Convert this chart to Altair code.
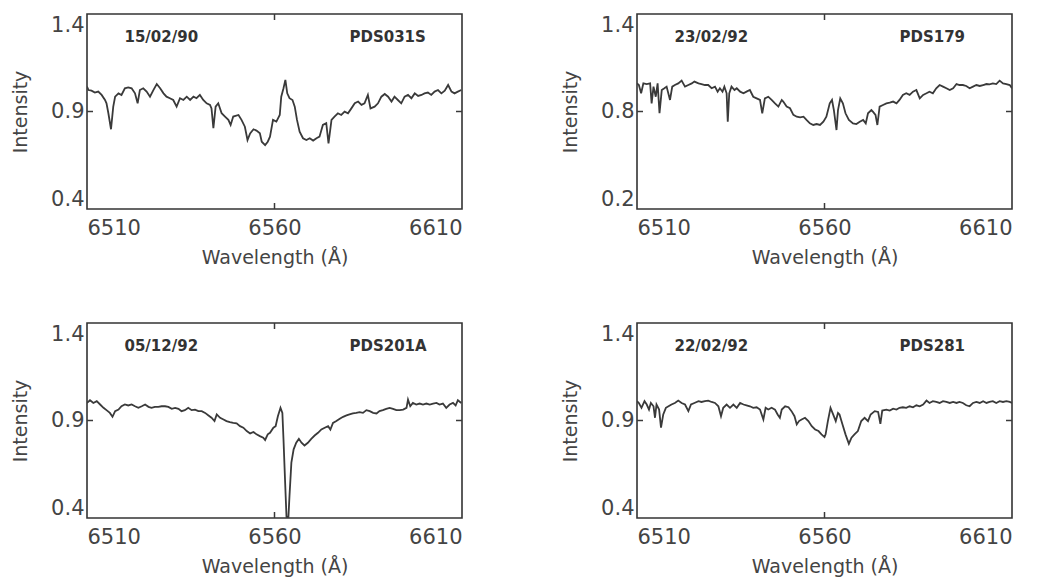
import altair as alt
import pandas as pd

# ---- data (wavelength Å, normalised intensity) ----
pds031s = [
    (6510.0, 1.028), (6510.4, 1.010), (6511.2, 1.007), (6512.1, 0.997), (6513.0, 1.002),
    (6513.9, 0.985), (6514.8, 0.959), (6515.2, 0.942), (6515.7, 0.891), (6516.4, 0.809),
    (6517.0, 0.925), (6517.5, 0.976), (6518.4, 0.993), (6519.2, 0.985), (6520.1, 1.019),
    (6521.0, 1.024), (6521.9, 1.019), (6522.8, 0.993), (6523.5, 0.942), (6524.1, 1.010),
    (6525.0, 1.019), (6525.9, 1.002), (6526.8, 0.976), (6527.7, 1.010), (6528.6, 1.041),
    (6529.5, 1.019), (6530.4, 0.993), (6531.2, 0.976), (6532.1, 0.968), (6533.0, 0.959),
    (6533.9, 0.925), (6534.8, 0.968), (6535.7, 0.959), (6536.6, 0.976), (6537.5, 0.959),
    (6538.4, 0.976), (6539.2, 0.968), (6540.1, 0.985), (6541.0, 0.959), (6541.9, 0.942),
    (6542.8, 0.934), (6543.2, 0.916), (6543.7, 0.814), (6544.3, 0.925), (6545.0, 0.942),
    (6545.9, 0.891), (6546.8, 0.874), (6547.7, 0.857), (6548.3, 0.831), (6549.0, 0.874),
    (6550.4, 0.882), (6551.2, 0.857), (6552.1, 0.822), (6552.8, 0.754), (6553.5, 0.788),
    (6554.4, 0.809), (6555.2, 0.802), (6556.1, 0.788), (6556.6, 0.745), (6557.5, 0.728),
    (6558.2, 0.745), (6558.8, 0.771), (6559.6, 0.857), (6560.5, 0.848), (6561.4, 0.882),
    (6561.8, 0.976), (6562.4, 1.019), (6562.9, 1.062), (6563.4, 0.993), (6564.0, 0.968),
    (6564.8, 0.959), (6565.4, 0.925), (6566.0, 0.857), (6566.7, 0.797), (6567.6, 0.763),
    (6568.5, 0.754), (6569.4, 0.763), (6570.3, 0.751), (6571.2, 0.763), (6572.0, 0.771),
    (6572.9, 0.831), (6573.8, 0.840), (6574.4, 0.737), (6575.2, 0.857), (6576.0, 0.874),
    (6576.9, 0.891), (6577.8, 0.882), (6578.7, 0.899), (6579.6, 0.891), (6580.5, 0.916),
    (6581.4, 0.942), (6582.3, 0.951), (6583.2, 0.934), (6584.0, 0.942), (6584.9, 0.985),
    (6585.6, 0.916), (6586.7, 0.925), (6587.6, 0.942), (6588.5, 0.976), (6589.4, 0.990),
    (6590.3, 0.976), (6591.2, 0.951), (6592.0, 0.976), (6592.9, 0.959), (6593.8, 0.942),
    (6594.7, 0.976), (6595.6, 0.985), (6596.5, 0.968), (6597.4, 0.993), (6598.3, 0.980),
    (6599.2, 0.985), (6600.0, 0.993), (6600.9, 0.997), (6601.8, 0.985), (6602.7, 1.002),
    (6603.6, 1.010), (6604.5, 0.993), (6605.4, 1.007), (6606.3, 1.036), (6607.2, 1.002),
    (6608.0, 0.993), (6608.9, 1.002), (6609.8, 1.010),
]

pds179 = [
    (6510.0, 0.973), (6510.5, 0.963), (6511.1, 0.912), (6511.7, 0.973), (6512.6, 0.969),
    (6513.5, 0.973), (6513.9, 0.850), (6514.4, 0.953), (6515.0, 0.891), (6515.5, 0.973),
    (6516.0, 0.789), (6516.6, 0.932), (6517.3, 0.943), (6517.9, 0.953), (6518.8, 0.871),
    (6519.4, 0.953), (6520.1, 0.963), (6521.0, 0.973), (6521.9, 0.990), (6522.8, 0.953),
    (6523.7, 0.963), (6524.6, 0.973), (6525.3, 0.984), (6526.4, 0.973), (6527.2, 0.969),
    (6528.1, 0.963), (6529.0, 0.963), (6529.9, 0.943), (6530.8, 0.953), (6531.5, 0.922),
    (6532.1, 0.943), (6532.8, 0.922), (6533.3, 0.953), (6533.9, 0.912), (6534.2, 0.737),
    (6534.6, 0.912), (6535.2, 0.953), (6536.0, 0.932), (6536.6, 0.943), (6537.5, 0.922),
    (6538.4, 0.912), (6539.2, 0.922), (6540.1, 0.932), (6541.0, 0.891), (6541.9, 0.881),
    (6542.8, 0.871), (6543.4, 0.789), (6544.1, 0.881), (6545.0, 0.891), (6545.9, 0.871),
    (6546.8, 0.850), (6547.7, 0.830), (6548.6, 0.871), (6549.0, 0.861), (6549.9, 0.830),
    (6550.8, 0.820), (6551.7, 0.779), (6552.6, 0.768), (6553.5, 0.764), (6554.4, 0.768),
    (6555.2, 0.748), (6556.1, 0.727), (6557.0, 0.717), (6557.9, 0.723), (6558.8, 0.717),
    (6559.7, 0.737), (6560.5, 0.768), (6561.4, 0.850), (6562.0, 0.871), (6562.5, 0.809),
    (6563.2, 0.686), (6563.6, 0.809), (6564.2, 0.881), (6564.9, 0.850), (6565.6, 0.789),
    (6566.5, 0.748), (6567.6, 0.727), (6568.5, 0.723), (6569.4, 0.737), (6570.3, 0.748),
    (6571.0, 0.727), (6571.6, 0.789), (6572.5, 0.809), (6572.9, 0.799), (6573.6, 0.779),
    (6574.1, 0.717), (6574.7, 0.830), (6575.6, 0.840), (6576.5, 0.850), (6577.4, 0.854),
    (6578.3, 0.861), (6579.2, 0.850), (6580.0, 0.871), (6580.9, 0.902), (6581.8, 0.912),
    (6582.7, 0.902), (6583.6, 0.922), (6584.5, 0.932), (6585.4, 0.881), (6586.3, 0.902),
    (6587.2, 0.912), (6588.0, 0.922), (6588.9, 0.912), (6589.8, 0.943), (6590.7, 0.963),
    (6591.6, 0.953), (6592.5, 0.943), (6593.4, 0.932), (6594.3, 0.943), (6595.2, 0.969),
    (6596.0, 0.963), (6596.9, 0.963), (6597.8, 0.957), (6598.7, 0.943), (6599.6, 0.953),
    (6600.5, 0.963), (6601.4, 0.957), (6602.3, 0.963), (6603.2, 0.969), (6604.0, 0.967),
    (6604.9, 0.973), (6605.8, 0.969), (6606.7, 0.990), (6607.6, 0.973), (6608.5, 0.969),
    (6609.4, 0.963), (6610.0, 0.943),
]

pds201a = [
    (6510.0, 0.990), (6510.8, 1.004), (6511.7, 0.990), (6512.6, 0.999), (6513.5, 0.982),
    (6514.4, 0.965), (6515.2, 0.953), (6516.1, 0.939), (6516.8, 0.919), (6517.5, 0.948),
    (6518.4, 0.956), (6519.2, 0.973), (6520.1, 0.982), (6521.0, 0.977), (6521.9, 0.982),
    (6522.8, 0.973), (6523.7, 0.965), (6524.6, 0.973), (6525.5, 0.982), (6526.4, 0.970),
    (6527.2, 0.965), (6528.1, 0.970), (6529.0, 0.970), (6529.9, 0.973), (6530.8, 0.973),
    (6531.7, 0.970), (6532.6, 0.960), (6533.5, 0.965), (6534.4, 0.960), (6535.2, 0.948),
    (6536.1, 0.953), (6537.0, 0.965), (6537.9, 0.953), (6538.8, 0.956), (6539.7, 0.948),
    (6540.6, 0.948), (6541.5, 0.939), (6542.4, 0.926), (6543.2, 0.914), (6544.0, 0.897),
    (6544.6, 0.931), (6545.5, 0.914), (6546.4, 0.905), (6547.2, 0.897), (6548.1, 0.892),
    (6549.0, 0.888), (6549.9, 0.885), (6550.8, 0.871), (6551.7, 0.863), (6552.6, 0.846),
    (6553.5, 0.834), (6554.4, 0.841), (6555.2, 0.829), (6556.1, 0.820), (6557.0, 0.812),
    (6557.5, 0.800), (6558.2, 0.829), (6558.8, 0.837), (6559.7, 0.863), (6560.3, 0.871),
    (6560.9, 0.922), (6561.6, 0.965), (6562.1, 0.939), (6562.4, 0.803), (6562.8, 0.599),
    (6563.2, 0.405), (6563.7, 0.400), (6564.0, 0.514), (6564.5, 0.684), (6565.1, 0.752),
    (6565.8, 0.786), (6566.5, 0.806), (6567.2, 0.786), (6568.0, 0.772), (6568.9, 0.786),
    (6569.8, 0.806), (6570.7, 0.823), (6571.6, 0.837), (6572.5, 0.854), (6573.4, 0.863),
    (6574.3, 0.871), (6574.9, 0.854), (6575.6, 0.888), (6576.5, 0.897), (6577.4, 0.909),
    (6578.3, 0.919), (6579.2, 0.926), (6580.0, 0.931), (6580.9, 0.936), (6581.8, 0.939),
    (6582.7, 0.943), (6583.6, 0.939), (6584.5, 0.953), (6585.4, 0.948), (6586.3, 0.939),
    (6587.2, 0.936), (6588.0, 0.948), (6588.9, 0.953), (6589.8, 0.960), (6590.7, 0.965),
    (6591.6, 0.960), (6592.5, 0.953), (6593.4, 0.953), (6594.3, 0.956), (6595.2, 0.965),
    (6595.6, 1.007), (6596.2, 0.973), (6596.9, 0.990), (6597.8, 0.982), (6598.7, 0.987),
    (6599.6, 0.982), (6600.5, 0.987), (6601.4, 0.982), (6602.3, 0.987), (6603.2, 0.990),
    (6604.0, 0.982), (6604.9, 0.987), (6605.8, 0.965), (6606.7, 0.982), (6607.6, 0.990),
    (6608.3, 0.977), (6608.9, 1.004), (6609.8, 0.990),
]

pds281 = [
    (6510.0, 0.999), (6510.5, 0.990), (6511.2, 0.965), (6512.0, 0.999), (6512.6, 0.982),
    (6513.2, 0.956), (6513.7, 0.990), (6514.4, 0.973), (6514.8, 0.914), (6515.2, 0.982),
    (6515.9, 0.956), (6516.4, 0.863), (6517.0, 0.931), (6517.7, 0.965), (6518.4, 0.973),
    (6519.2, 0.982), (6520.1, 0.990), (6521.0, 1.002), (6521.9, 0.990), (6522.8, 0.982),
    (6523.7, 0.948), (6524.4, 0.982), (6525.3, 0.990), (6526.4, 0.999), (6527.2, 0.995),
    (6528.1, 0.999), (6529.0, 1.002), (6529.9, 0.995), (6530.8, 0.990), (6531.7, 0.973),
    (6532.4, 0.922), (6533.0, 0.965), (6533.9, 0.982), (6534.8, 0.965), (6535.7, 0.982),
    (6536.6, 0.965), (6537.5, 0.990), (6538.4, 0.982), (6539.2, 0.978), (6540.1, 0.973),
    (6541.0, 0.965), (6541.9, 0.968), (6542.8, 0.956), (6543.7, 0.905), (6544.3, 0.965),
    (6545.0, 0.956), (6545.9, 0.965), (6546.8, 0.956), (6547.5, 0.931), (6548.1, 0.914),
    (6548.6, 0.956), (6549.5, 0.973), (6550.4, 0.968), (6551.2, 0.948), (6552.0, 0.922),
    (6552.6, 0.880), (6553.2, 0.897), (6553.9, 0.905), (6554.8, 0.914), (6555.7, 0.897),
    (6556.6, 0.871), (6557.5, 0.854), (6558.4, 0.846), (6559.2, 0.829), (6560.0, 0.815),
    (6560.3, 0.829), (6560.9, 0.897), (6561.6, 0.965), (6562.3, 0.931), (6563.0, 0.897),
    (6563.6, 0.939), (6564.0, 0.931), (6564.8, 0.880), (6565.6, 0.829), (6566.5, 0.781),
    (6567.2, 0.812), (6568.0, 0.829), (6568.9, 0.846), (6569.8, 0.897), (6570.7, 0.914),
    (6571.6, 0.897), (6572.3, 0.931), (6573.4, 0.948), (6574.3, 0.944), (6574.9, 0.883),
    (6575.4, 0.951), (6576.5, 0.956), (6577.4, 0.951), (6578.3, 0.961), (6579.2, 0.956),
    (6580.0, 0.965), (6580.9, 0.968), (6581.8, 0.965), (6582.7, 0.973), (6583.6, 0.968),
    (6584.5, 0.978), (6585.4, 0.973), (6586.3, 0.982), (6587.2, 1.002), (6588.0, 0.990),
    (6588.9, 0.999), (6589.8, 0.995), (6590.7, 0.990), (6591.6, 0.999), (6592.5, 0.995),
    (6593.4, 0.990), (6594.3, 0.995), (6595.2, 0.990), (6596.0, 0.995), (6596.9, 0.990),
    (6597.8, 0.978), (6598.7, 0.973), (6599.6, 0.990), (6600.5, 0.995), (6601.4, 0.990),
    (6602.3, 0.999), (6603.2, 0.990), (6604.0, 0.995), (6604.9, 0.999), (6605.8, 0.990),
    (6606.7, 0.999), (6607.6, 0.995), (6608.5, 0.999), (6609.4, 0.995), (6610.0, 0.990),
]

x_ticks = [6510, 6560, 6610]
y_ticks_a = [0.4, 0.9, 1.4]
y_ticks_b = [0.2, 0.8, 1.4]

dates = ["15/02/90", "23/02/92", "05/12/92", "22/02/92"]
names = ["PDS031S", "PDS179", "PDS201A", "PDS281"]

W, H = 375, 195
INK = "#3a3a3a"
TXT = "#444444"


def panel(spec, yticks, date, name):
    df = pd.DataFrame(spec, columns=["wl", "inten"])
    x = alt.X("wl:Q", scale=alt.Scale(domain=[x_ticks[0], x_ticks[-1]], nice=False),
              axis=alt.Axis(values=x_ticks, format="d", title="Wavelength (Å)",
                            grid=False, ticks=False, domain=False, labelPadding=8,
                            titlePadding=10))
    y = alt.Y("inten:Q", scale=alt.Scale(domain=[yticks[0], yticks[-1]], nice=False, zero=False),
              axis=alt.Axis(values=yticks, format=".1f", title="Intensity", grid=False,
                            ticks=False, domain=False, labelFlush=True, labelPadding=3,
                            titlePadding=20))
    line = alt.Chart(df).mark_line(color=INK, strokeWidth=1.8, clip=True).encode(x=x, y=y)

    top = yticks[-1]
    span = yticks[-1] - yticks[0]
    lab = pd.DataFrame({"wl": [6520.0, 6580.0], "inten": [top - 0.12 * span] * 2,
                        "txt": [date, name]})
    labels = alt.Chart(lab).mark_text(align="left", baseline="middle", fontSize=15,
                                      fontWeight="bold", font="DejaVu Sans", color="#333333").encode(
        x="wl:Q", y="inten:Q", text="txt:N")

    midx = pd.DataFrame({"wl": [x_ticks[1]]})
    midy = pd.DataFrame({"inten": [yticks[1]]})
    tb = alt.Chart(midx).mark_rule(color=INK, strokeWidth=1.5).encode(
        x="wl:Q", y=alt.value(H), y2=alt.value(H - 6))
    tt = alt.Chart(midx).mark_rule(color=INK, strokeWidth=1.5).encode(
        x="wl:Q", y=alt.value(0), y2=alt.value(6))
    tl = alt.Chart(midy).mark_rule(color=INK, strokeWidth=1.5).encode(
        y="inten:Q", x=alt.value(0), x2=alt.value(6))
    tr = alt.Chart(midy).mark_rule(color=INK, strokeWidth=1.5).encode(
        y="inten:Q", x=alt.value(W), x2=alt.value(W - 6))

    return alt.layer(line, labels, tb, tt, tl, tr).properties(width=W, height=H)


chart = alt.concat(
    panel(pds031s, y_ticks_a, dates[0], names[0]),
    panel(pds179, y_ticks_b, dates[1], names[1]),
    panel(pds201a, y_ticks_a, dates[2], names[2]),
    panel(pds281, y_ticks_a, dates[3], names[3]),
    columns=2, spacing={"column": 175, "row": 114}, bounds="flush",
).configure_view(
    stroke="#333333", strokeWidth=1.6
).configure_axis(
    labelFont="DejaVu Sans", labelFontSize=21, labelColor=TXT,
    titleFont="DejaVu Sans", titleFontSize=19, titleColor=TXT, titleFontWeight="normal"
).properties(padding={"left": 10, "top": 12, "right": 5, "bottom": 5}, background="white")

chart.save("out.html", embed_options={"renderer": "svg", "actions": False})
